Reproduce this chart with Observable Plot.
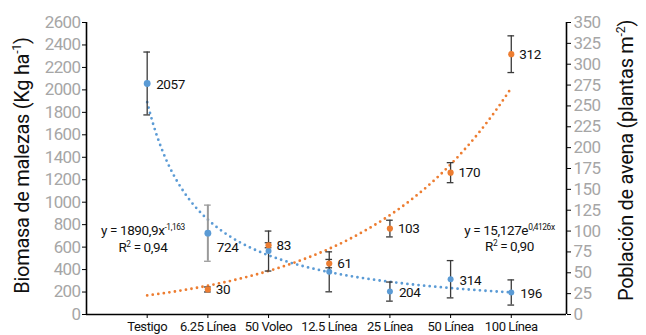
<!DOCTYPE html>
<html>
<head>
<meta charset="utf-8">
<script src="https://cdn.jsdelivr.net/npm/d3@7"></script>
<script src="https://cdn.jsdelivr.net/npm/@observablehq/plot@0.6"></script>
<style>
  html, body { margin: 0; padding: 0; background: #fff; }
  #chart svg { display: block; letter-spacing: -0.4px; }
  #chart g[aria-label="y-axis tick label"] { letter-spacing: -0.6px; }
  #chart text.title { letter-spacing: -0.3px; }
</style>
</head>
<body>
<div id="chart"></div>
<script>
// ---- data ----
const categories = ["Testigo", "6.25 Línea", "50 Voleo", "12.5 Línea", "25 Línea", "50 Línea", "100 Línea"];
const biomasa = [2057, 724, 565, 380, 204, 314, 196];           // Kg ha-1 (left axis)
const biomasaErr = [280, 250, 178, 178, 85, 166, 112];
const biomasaLabels = ["2057", "724", null, null, "204", "314", "196"];
const poblacion = [null, 30, 83, 61, 103, 170, 312];            // plantas m-2 (right axis)
const poblacionErr = [null, 3, 3, 5, 10, 12, 22];
const poblacionLabels = [null, "30", "83", "61", "103", "170", "312"];
const leftTicks = d3.range(0, 2601, 200);
const rightTicks = d3.range(0, 351, 25);
// trendlines as printed on the chart
const powerFit = {a: 1890.9, b: -1.163, eq: "y = 1890,9x^{-1,163}", r2: "R^{2} = 0,94"};
const expFit = {a: 15.127, b: 0.4126, eq: "y = 15,127e^{0,4126x}", r2: "R^{2} = 0,90"};
const titleLeft = "Biomasa de malezas (Kg ha^{-1})";
const titleRight = "Población de avena (plantas m^{-2})";

// ---- build ----
const LEFT_MAX = 2600, RIGHT_MAX = 350;
const k = LEFT_MAX / RIGHT_MAX; // right -> left units
const BLUE = "#5B9BD5", ORANGE = "#ED7D31";
const FONT = "Roboto, 'Liberation Sans', sans-serif";

const rows = categories.map((c, i) => ({
  i: i + 1, cat: c,
  b: biomasa[i], be: biomasaErr[i], bl: biomasaLabels[i],
  p: poblacion[i], pe: poblacionErr[i], pl: poblacionLabels[i]
}));
const pRows = rows.filter(d => d.p != null);

const xs = d3.range(1, 7.0001, 0.05);
const powerLine = xs.map(x => ({x, y: powerFit.a * Math.pow(x, powerFit.b)}));
const expLine = xs.map(x => ({x, y: expFit.a * Math.exp(expFit.b * x) * k}));

const cap = 0.055;
const errRows = [
  ...rows.map(d => ({x: d.i, lo: d.b - d.be, hi: d.b + d.be, s: d.i === 2 ? "#9a9a9a" : "#3a3a3a", w: d.i === 2 ? 2 : 1.3})),
  ...pRows.map(d => ({x: d.i, lo: (d.p - d.pe) * k, hi: (d.p + d.pe) * k, s: "#3a3a3a", w: 1.3}))
];

const plot = Plot.plot({
  width: 646,
  height: 335,
  marginLeft: 86,
  marginRight: 80,
  marginTop: 22,
  marginBottom: 21,
  style: {fontFamily: FONT, background: "#fff", overflow: "visible"},
  x: {domain: [0, 7.91], axis: null},
  y: {domain: [0, LEFT_MAX], axis: null},
  marks: [
    // axes
    Plot.axisY(leftTicks, {anchor: "left", tickSize: 4, tickPadding: 2, fontSize: 17, fill: "#a6a6a6", stroke: "#000", tickFormat: d => String(d), label: null}),
    Plot.axisY(rightTicks.map(v => v * k), {anchor: "right", tickSize: 4, tickPadding: 3, fontSize: 17, fill: "#a6a6a6", stroke: "#000", tickFormat: v => String(Math.round(v / k)), label: null}),
    Plot.axisX(d3.range(1, 8), {anchor: "bottom", tickSize: 4, tickPadding: 3, fontSize: 13, fill: "#111", stroke: "#000", tickFormat: i => categories[i - 1], label: null}),
    Plot.ruleY([0], {stroke: "#000", strokeWidth: 1.6}),
    Plot.ruleX([0, 7.91], {stroke: "#000", strokeWidth: 1.6}),
    // trendlines
    Plot.line(powerLine, {x: "x", y: "y", stroke: BLUE, strokeWidth: 2.8, strokeDasharray: "0 5.6", strokeLinecap: "round"}),
    Plot.line(expLine, {x: "x", y: "y", stroke: ORANGE, strokeWidth: 2.8, strokeDasharray: "0 5.6", strokeLinecap: "round"}),
    // error bars
    Plot.ruleX(errRows, {x: "x", y1: "lo", y2: "hi", stroke: "s", strokeWidth: "w"}),
    Plot.ruleY(errRows, {y: "lo", x1: d => d.x - cap, x2: d => d.x + cap, stroke: "s", strokeWidth: 1.3}),
    Plot.ruleY(errRows, {y: "hi", x1: d => d.x - cap, x2: d => d.x + cap, stroke: "s", strokeWidth: 1.3}),
    // points
    Plot.dot(rows, {x: "i", y: "b", r: d => d.i <= 2 ? 4.3 : 3.3, fill: BLUE, stroke: null}),
    Plot.dot(pRows, {x: "i", y: d => d.p * k, r: 3.1, fill: ORANGE, stroke: null}),
    // data labels
    Plot.text(rows.filter(d => d.bl && d.i !== 2), {x: "i", y: "b", text: "bl", dx: 9, dy: 1, textAnchor: "start", fontSize: 13.5, fill: "#111"}),
    Plot.text(rows.filter(d => d.bl && d.i === 2), {x: "i", y: "b", text: "bl", dx: 9, dy: 14, textAnchor: "start", fontSize: 13.5, fill: "#111"}),
    Plot.text(pRows, {x: "i", y: d => d.p * k, text: "pl", dx: 8, dy: 0, textAnchor: "start", fontSize: 13.5, fill: "#111"}),
    // equations
    Plot.text([powerFit.eq], {x: 0.93, y: 748, fontSize: 13.5, fill: "#111"}),
    Plot.text([powerFit.r2], {x: 0.93, y: 597, fontSize: 13.5, fill: "#111"}),
    Plot.text([expFit.eq], {x: 6.97, y: 742, fontSize: 13.5, fill: "#111"}),
    Plot.text([expFit.r2], {x: 6.97, y: 606, fontSize: 13.5, fill: "#111"}),
    // axis titles
    Plot.text([titleLeft], {frameAnchor: "left", textAnchor: "middle", rotate: -90, dx: -64, dy: -3, fontSize: 20, fill: "#111"}),
    Plot.text([titleRight], {frameAnchor: "right", textAnchor: "middle", rotate: -90, dx: 60, dy: -8, fontSize: 20, fill: "#111"})
  ]
});

document.getElementById("chart").appendChild(plot);

// superscripts: turn "^{...}" into raised tspans
const NS = "http://www.w3.org/2000/svg";
plot.querySelectorAll("text").forEach(t => {
  if (t.children.length) return;
  const s = t.textContent;
  if (!s.includes("^{")) return;
  const fs = parseFloat(getComputedStyle(t).fontSize) || 14;
  if (fs >= 18) t.classList.add("title");
  t.textContent = "";
  const parts = s.split(/(\^\{[^}]*\})/).filter(p => p);
  let up = false;
  parts.forEach(p => {
    const ts = document.createElementNS(NS, "tspan");
    if (p.startsWith("^{")) {
      ts.textContent = p.slice(2, -1);
      ts.setAttribute("font-size", (fs * 0.62) + "px");
      ts.setAttribute("dy", (-fs * 0.38) + "px");
      up = true;
    } else {
      ts.textContent = p;
      if (up) { ts.setAttribute("dy", (fs * 0.38) + "px"); up = false; }
    }
    t.appendChild(ts);
  });
});
</script>
</body>
</html>
